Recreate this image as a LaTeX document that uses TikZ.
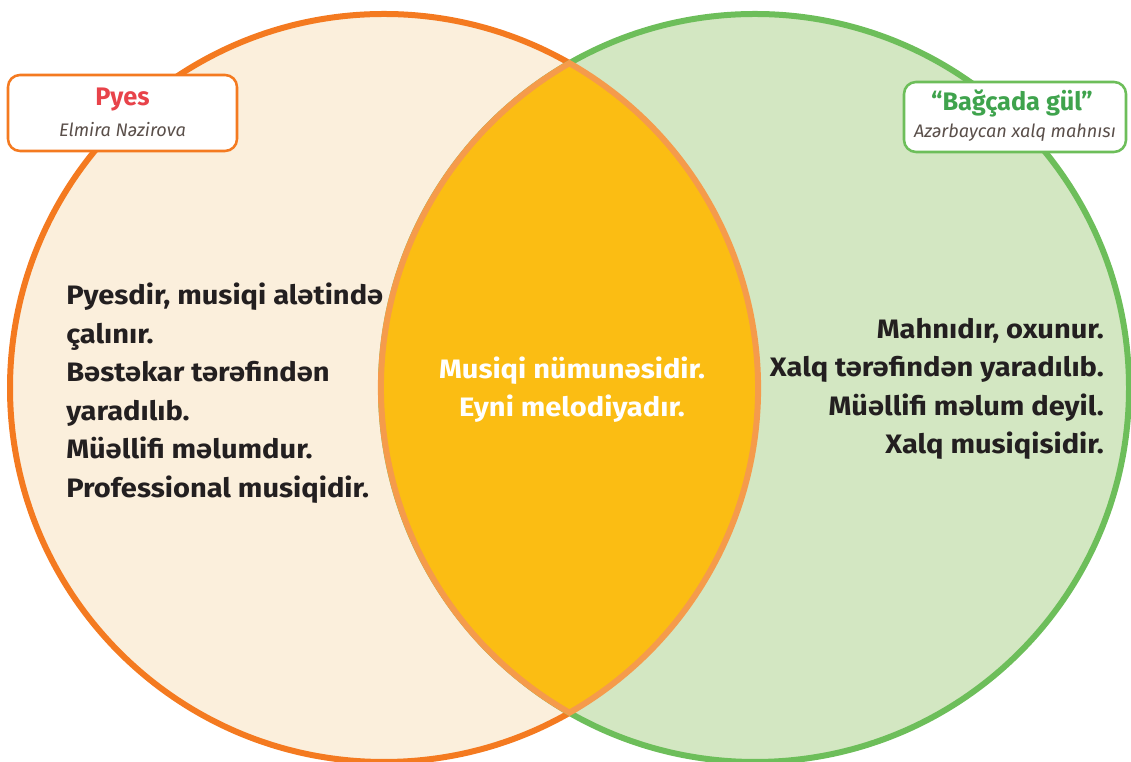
\documentclass[tikz,border=0pt]{standalone}
\usepackage{fontspec}
\setmainfont{Fira Sans}
\newfontfamily\factfont[FakeStretch=1.09]{Fira Sans}
\usetikzlibrary{positioning}

\definecolor{leftfill}{HTML}{FBEFDC}
\definecolor{leftline}{HTML}{F47A20}
\definecolor{rightfill}{HTML}{D3E7C2}
\definecolor{rightline}{HTML}{6DBE5A}
\definecolor{lensfill}{HTML}{FBBD13}
\definecolor{lensline}{HTML}{F59B4B}
\definecolor{textdark}{HTML}{231F20}
\definecolor{subgray}{HTML}{5A4F4A}
\definecolor{titlered}{HTML}{E8434A}
\definecolor{titlegreen}{HTML}{3FA34D}

\tikzset{
  labelbox/.style={draw, fill=white, rounded corners=9pt, line width=1.9pt},
  title/.style={font=\fontsize{19}{21}\selectfont\bfseries, inner sep=0pt},
  subtitle/.style={font=\fontsize{13.6}{15}\selectfont\itshape, text=subgray, inner sep=0pt},
  facts/.style={font=\factfont\fontsize{20}{28.9}\selectfont\bfseries, text=textdark, inner sep=0pt}
}

\begin{document}
\begin{tikzpicture}[x=0.75pt, y=0.75pt]

  \useasboundingbox (0,0) rectangle (1131,762);

  % the two sets
  \draw[fill=leftfill, draw=leftline, line width=4.5pt] (384,374) circle[radius=374];
  \draw[fill=rightfill, draw=rightline, line width=4.5pt] (755,374) circle[radius=374];

  % common part
  \draw[fill=lensfill, draw=lensline, line width=4.5pt, line join=miter]
    (569.5,698.8) arc[start angle=60.27, end angle=-60.27, radius=374]
    arc[start angle=240.27, end angle=119.73, radius=374] -- cycle;

  % titles
  \node[labelbox, draw=leftline, minimum width=171.75pt, minimum height=57pt] (b0) at (122.5,649) {};
  \node[title, text=titlered] (t0) at (122.5,662) {Pyes};
  \node[subtitle] (s0) at (122.5,632) {Elmira Nəzirova};

  \node[labelbox, draw=rightline, minimum width=166.5pt, minimum height=52.5pt] (b1) at (1015,645) {};
  \node[title, text=titlegreen] (t1) at (1012,659) {“Bağçada gül”};
  \node[subtitle] (s1) at (1015,629) {Azərbaycan xalq mahnısı};

  % facts
  \node[facts, anchor=west, align=left] (p0) at (66,369)
    {Pyesdir, musiqi alətində\\çalınır.\\Bəstəkar tərəfindən\\yaradılıb.\\Müəllifi məlumdur.\\Professional musiqidir.};
  \node[facts, text=white, align=center] (p1) at (572,372.5)
    {Musiqi nümunəsidir.\\Eyni melodiyadır.};
  \node[facts, anchor=east, align=right] (p2) at (1104,373)
    {Mahnıdır, oxunur.\\Xalq tərəfindən yaradılıb.\\Müəllifi məlum deyil.\\Xalq musiqisidir.};

\end{tikzpicture}
\end{document}
